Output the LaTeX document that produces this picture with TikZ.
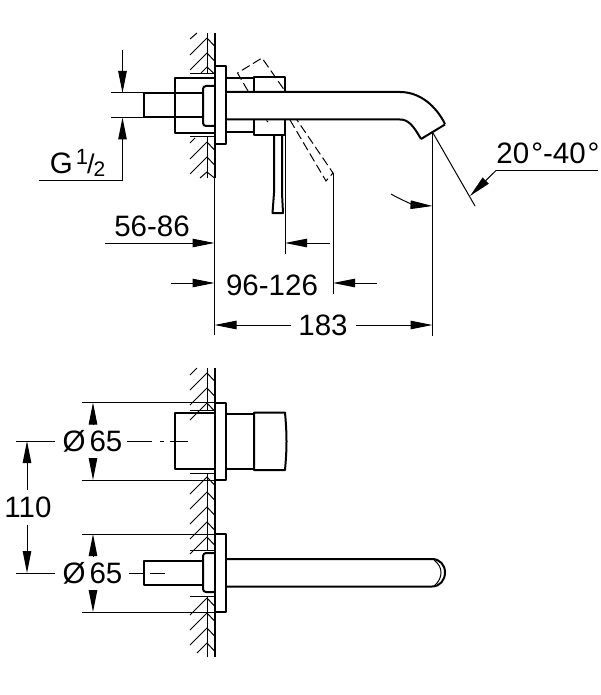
\documentclass[tikz,border=0pt]{standalone}
\usepackage{fontspec}
\setmainfont{Liberation Sans}
\usetikzlibrary{arrows.meta}

\tikzset{
  thinline/.style={line width=1pt},
  thickline/.style={line width=2pt,line join=round},
  dashline/.style={line width=1pt,dash pattern=on 9pt off 4pt},
  dimtip/.style={line width=1pt,-{Triangle[length=22pt,width=8.5pt]}},
  dimlabel/.style={inner sep=0pt,font=\fontsize{29.5}{32}\selectfont},
}
\newcommand{\wallmark}[1]{%
  \draw[thinline] (190,#1+17)--(207,#1)--(214.5,#1+8);
}

\begin{document}
\begin{tikzpicture}[x=1pt,y=-1pt]
\useasboundingbox (0,0) rectangle (600,695);

% side view, wall
\draw[thinline] (207,33)--(207,74);
\draw[thinline] (207,137)--(207,178);
\draw[thickline] (214.5,33)--(214.5,66);
\draw[thickline] (214.5,144)--(214.5,178);
\draw[thinline] (190,73.5)--(214.5,73.5);
\draw[thinline] (190,136.5)--(214.5,136.5);
\draw[thinline] (190,39)--(197,33);
\foreach \y in {38,53} {\wallmark{\y}}
\draw[thinline] (201,73)--(207,67)--(214.5,74);
\draw[thinline] (190,143)--(195,138);
\foreach \y in {142,157} {\wallmark{\y}}
\draw[thinline] (200,178)--(207,172)--(214.5,178);

% side view, fitting
\draw[thickline] (215,66.5) rectangle (225.5,144);
\draw[thickline] (214,78)--(175,78)--(175,133)--(214,133);
\draw[thickline] (203,93)--(144,93)--(144,117.5)--(203,117.5);
\draw[thickline,rounded corners=3pt] (214,86)--(203,86)--(203,126)--(214,126);
\draw[thickline] (225.5,78)--(253,78);
\draw[thickline] (225.5,132)--(253,132);
\draw[thickline] (254,92)--(254,77)--(285,77)--(285,92);
\draw[thickline] (254,120)--(254,135)--(285,135)--(285,120);

% spout
\draw[thickline] (225.5,92)--(400,92) .. controls (420,92) and (436,106) .. (445,124);
\draw[thickline] (225.5,119.5)--(400,119.5) .. controls (408,119.5) and (413,125) .. (421,139);
\draw[thickline] (421,139)--(445,124.5);

% lever
\draw[thickline] (274,135)--(274,193)--(272.5,213)--(283,213)--(282,193)--(282,135);

% lever, other position
\draw[dashline] (248,91)--(237.5,73)--(262,58)--(285,91);
\draw[dashline] (290,120)--(326,181)--(333,173)--(297,120);
\draw[thinline] (266.5,120.5)--(268,122);

% dimensions, side view
\draw[thinline] (214.5,178)--(214.5,335);
\draw[thinline] (285,135)--(285,254);
\draw[thinline] (333,173)--(333,294);
\draw[thinline] (432.5,133)--(432.5,336);
\draw[thinline] (433,133)--(475,206);

\draw[thinline] (111,93)--(144,93);
\draw[thinline] (111,117.5)--(144,117.5);
\draw[dimtip] (122.5,50)--(122.5,93);
\draw[dimtip] (38.5,180)--(122.5,180)--(122.5,117.5);
\node [dimlabel] (threadlabel) at (77.5,162.5) {G\kern3pt\raisebox{9pt}{\fontsize{22}{24}\selectfont 1}\kern-1pt\fontsize{27}{29}\selectfont/\kern-1pt\raisebox{-3pt}{\fontsize{21}{23}\selectfont 2}};

\node [dimlabel] (minlabel) at (152,226) {56-86};
\draw[dimtip] (105,243)--(214.5,243);
\draw[dimtip] (330,243)--(285,243);

\node [dimlabel] (midlabel) at (272,285) {96-126};
\draw[dimtip] (171,283)--(214.5,283);
\draw[dimtip] (377,283)--(333,283);

\node [dimlabel] (widthlabel) at (323,325) {183};
\draw[dimtip] (291,325)--(214.5,325);
\draw[dimtip] (356,325)--(432.5,325);

\node [dimlabel] (anglelabel) at (548,153) {20\kern2pt°-40\kern2pt°};
\draw[thinline] (598,170.5)--(496,170.5);
\draw[dimtip] (496,170.5)--(470,196);
\draw[dimtip] (391,194) .. controls (403,201) and (415,205) .. (432.5,206);

% front view, wall
\draw[thinline] (207,368)--(207,410);
\draw[thinline] (207,473)--(207,550);
\draw[thinline] (207,596)--(207,657);
\draw[thickline] (214.5,368)--(214.5,657);
\draw[thinline] (190,410)--(214.5,410);
\draw[thinline] (190,473)--(214.5,473);
\draw[thinline] (190,550)--(214.5,550);
\draw[thinline] (190,596)--(214.5,596);
\draw[thinline] (190,375)--(197,368);
\foreach \y in {373,388,403} {\wallmark{\y}}
\foreach \y in {477,492,507,522,537} {\wallmark{\y}}
\foreach \y in {598,613,628} {\wallmark{\y}}
\draw[thinline] (197,653)--(207,643)--(214.5,651);

% front view, upper fitting
\draw[thickline] (215,402.5) rectangle (225.5,480);
\draw[thickline] (214,413)--(175,413)--(175,469)--(214,469);
\draw[thickline] (225.5,414)--(253,414);
\draw[thickline] (225.5,468.5)--(253,468.5);
\draw[thickline] (254,412.5)--(285,412.5) .. controls (287,435) and (287,448) .. (285,470)--(254,470)--cycle;

% front view, lower fitting
\draw[thickline] (215,534) rectangle (225.5,612);
\draw[thickline] (203,561)--(144,561)--(144,585)--(203,585);
\draw[thickline,rounded corners=3pt] (214,553)--(203,553)--(203,592)--(214,592);
\draw[thickline] (225.5,559)--(432,559) .. controls (440,559) and (445,565) .. (445,572.5) .. controls (445,580) and (440,586.5) .. (432,586.5)--(225.5,586.5);
\draw[thinline] (434,560) .. controls (439,564) and (441,568) .. (441,572.5) .. controls (441,577) and (439,582) .. (434,586);

% dimensions, front view
\draw[thinline] (82,402.5)--(214,402.5);
\draw[thinline] (82,480)--(214,480);
\draw[thinline] (82,534)--(214,534);
\draw[thinline] (82,612)--(214,612);
\draw[dimtip] (93,425)--(93,402.5);
\draw[dimtip] (93,458)--(93,480);
\draw[dimtip] (93,556.5)--(93,534);
\draw[dimtip] (93,590)--(93,612);

\node [dimlabel] (upperlabel) at (92.5,441.5) {Ø\kern4pt 65};
\draw[thinline] (16,441)--(55,441);
\draw[thinline] (127,441)--(152,441);
\draw[thinline] (160,441)--(164,441);
\draw[thinline] (170,441)--(188,441);

\node [dimlabel] (lowerlabel) at (92.5,573) {Ø\kern4pt 65};
\draw[thinline] (16,573)--(55,573);
\draw[thinline] (129,573)--(143,573);
\draw[thinline] (150,573)--(165,573);

\node [dimlabel] (spacinglabel) at (28,507) {110};
\draw[dimtip] (27,490)--(27,441);
\draw[dimtip] (27,525)--(27,573);

\end{tikzpicture}
\end{document}
